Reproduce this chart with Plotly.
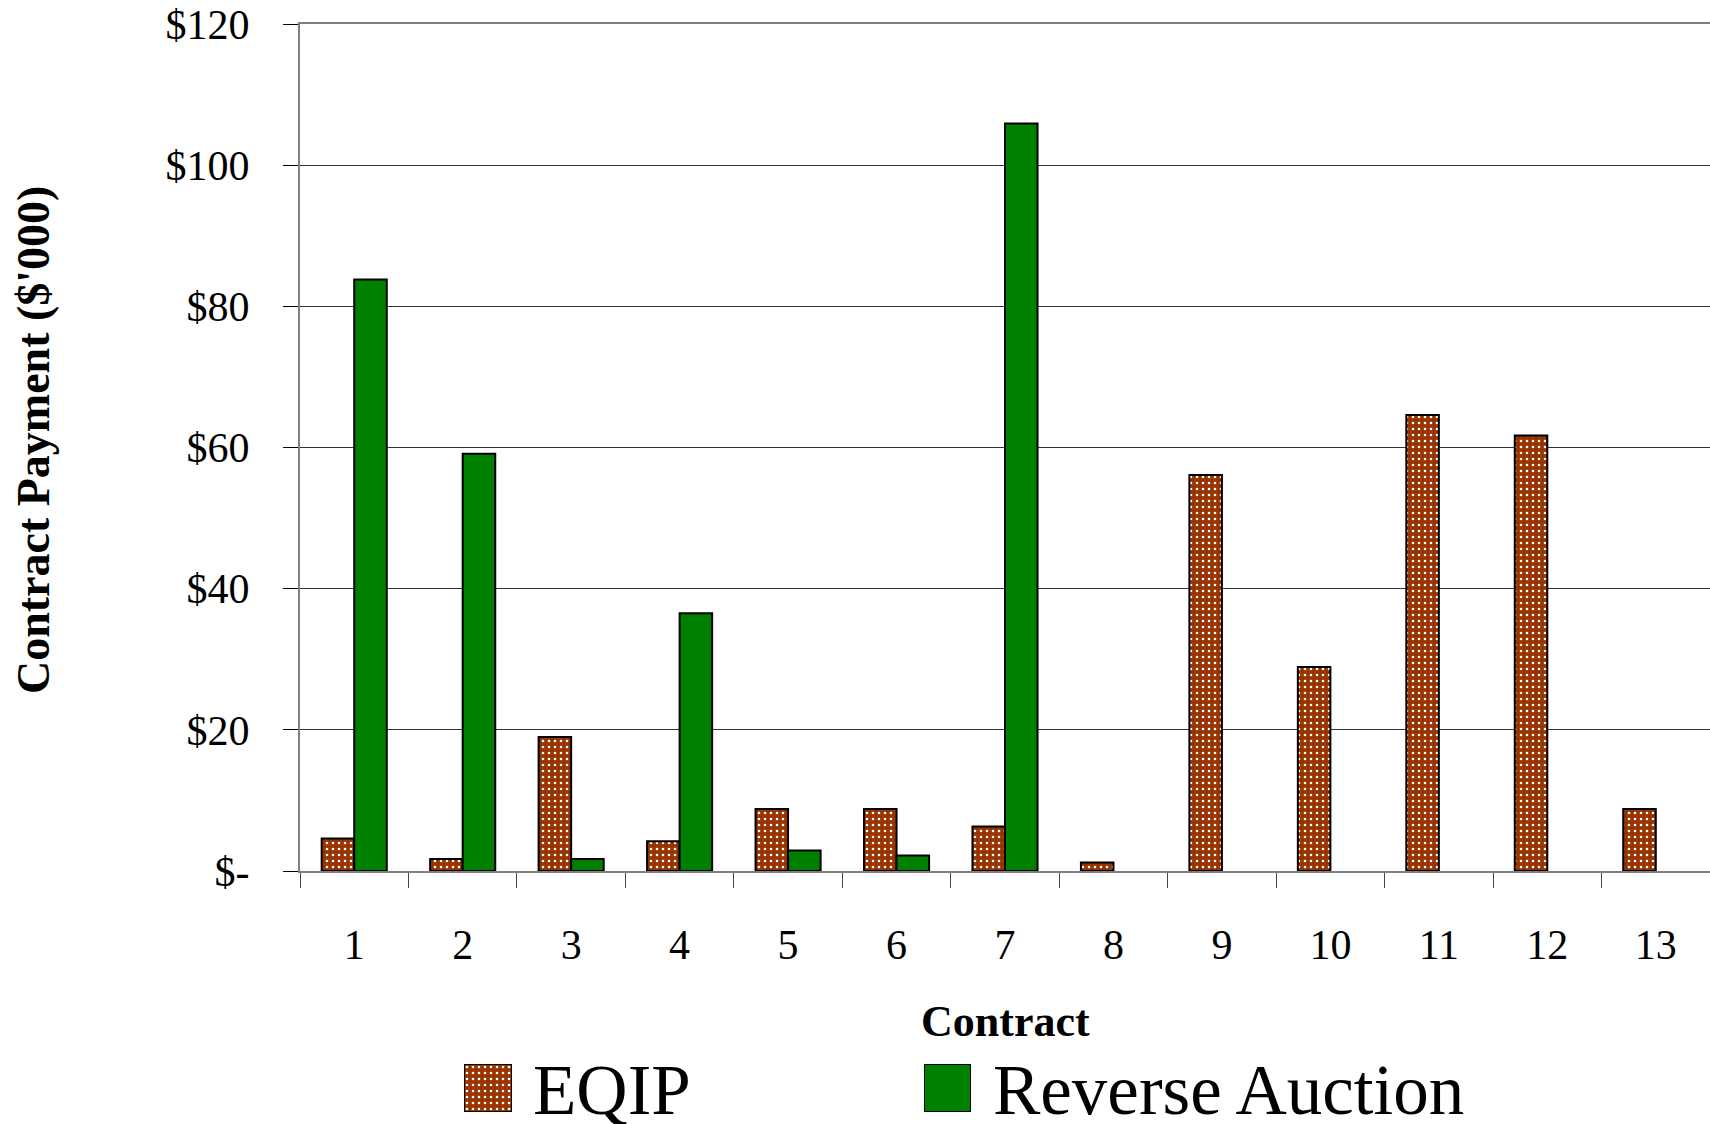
import plotly.graph_objects as go

# ---- data ----
contracts = ["1", "2", "3", "4", "5", "6", "7", "8", "9", "10", "11", "12", "13"]
eqip = [4.6, 1.7, 19.0, 4.2, 8.8, 8.8, 6.3, 1.2, 56.1, 28.9, 64.6, 61.7, 8.8]
reverse_auction = [83.8, 59.1, 1.7, 36.5, 2.9, 2.2, 105.9, None, None, None, None, None, None]
y_tickvals = [0, 20, 40, 60, 80, 100, 120]
y_ticktext = ["$-", "$20", "$40", "$60", "$80", "$100", "$120"]
series_names = ["EQIP", "Reverse Auction"]

# ---- geometry helpers (figure pixels -> paper coords) ----
W, H = 1710, 1124
ML, MT = 300, 24
PW, PH = W - ML, H - MT


def px_x(p):
    return (p - ML) / PW


def px_y(p):
    return (H - p) / PH


FONT = "Liberation Serif"
BROWN = "#993300"
GREEN = "#008000"

eqip_marker = dict(
    color=BROWN,
    line=dict(color="black", width=2),
    pattern=dict(shape=".", bgcolor=BROWN, fgcolor="white", size=6, solidity=0.15),
)
ra_marker = dict(color=GREEN, line=dict(color="black", width=2))

fig = go.Figure()
fig.add_trace(go.Bar(x=contracts, y=eqip, name=series_names[0], marker=eqip_marker,
                     showlegend=False))
fig.add_trace(go.Bar(x=contracts, y=reverse_auction, name=series_names[1], marker=ra_marker,
                     showlegend=False))

# legend glyphs drawn as bars on small hidden axes
fig.add_trace(go.Bar(x=[0], y=[1], width=[1], offset=0, marker=eqip_marker,
                     xaxis="x2", yaxis="y2", showlegend=False, hoverinfo="skip",
                     cliponaxis=False))
fig.add_trace(go.Bar(x=[0], y=[1], width=[1], offset=0, marker=ra_marker,
                     xaxis="x3", yaxis="y2", showlegend=False, hoverinfo="skip",
                     cliponaxis=False))

fig.update_layout(
    template="none",
    width=W, height=H,
    margin=dict(l=ML, r=0, t=MT, b=0, pad=0, autoexpand=False),
    paper_bgcolor="white", plot_bgcolor="white",
    font=dict(family=FONT, color="black", size=42),
    barmode="group", bargap=0.4, bargroupgap=0,
    xaxis=dict(
        type="category", categoryorder="array", categoryarray=contracts,
        tickson="boundaries", ticks="outside", ticklen=15, tickwidth=1, tickcolor="#444",
        showline=True, linecolor="#808080", linewidth=2, mirror=True,
        showgrid=False, zeroline=False, automargin=False,
        tickfont=dict(family=FONT, size=42, color="black"),
        ticklabelstandoff=36,
        anchor="y",
    ),
    yaxis=dict(
        domain=[px_y(871), 1], range=[0, 120],
        tickvals=y_tickvals, ticktext=y_ticktext,
        ticks="outside", ticklen=15, tickwidth=1, tickcolor="black",
        showline=True, linecolor="#808080", linewidth=2,
        showgrid=True, gridcolor="#333333", gridwidth=1,
        zeroline=False, automargin=False,
        tickfont=dict(family=FONT, size=42, color="black"),
        ticklabelstandoff=25,
        anchor="x",
    ),
    xaxis2=dict(domain=[px_x(464), px_x(512)], range=[0, 1], visible=False,
                anchor="y2", fixedrange=True, automargin=False),
    xaxis3=dict(domain=[px_x(924), px_x(971)], range=[0, 1], visible=False,
                anchor="y2", fixedrange=True, automargin=False),
    yaxis2=dict(domain=[px_y(1112), px_y(1064)], range=[0, 1], visible=False,
                anchor="x2", fixedrange=True, automargin=False),
    annotations=[
        dict(text="<b>Contract Payment ($'000)</b>", xref="paper", yref="paper",
             x=px_x(33), y=px_y(440), xanchor="center", yanchor="middle",
             textangle=-90, showarrow=False,
             font=dict(family=FONT, size=46, color="black")),
        dict(text="<b>Contract</b>", xref="paper", yref="paper",
             x=px_x(1006), y=px_y(1021), xanchor="center", yanchor="middle",
             showarrow=False, font=dict(family=FONT, size=44, color="black")),
        dict(text=series_names[0], xref="paper", yref="paper",
             x=px_x(531), y=px_y(1090), xanchor="left", yanchor="middle",
             showarrow=False, font=dict(family=FONT, size=71, color="black")),
        dict(text=series_names[1], xref="paper", yref="paper",
             x=px_x(991), y=px_y(1090), xanchor="left", yanchor="middle",
             showarrow=False, font=dict(family=FONT, size=71, color="black")),
    ],
)

fig.write_html("out.html")
